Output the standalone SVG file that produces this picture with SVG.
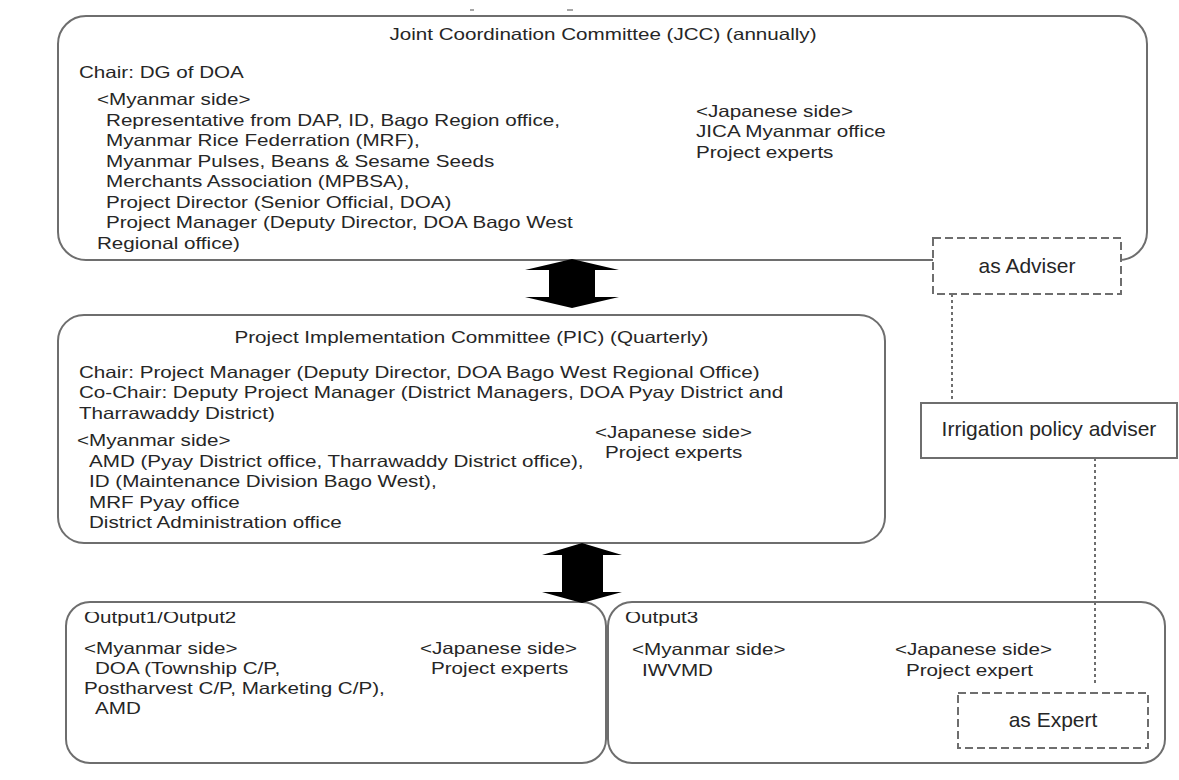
<svg xmlns="http://www.w3.org/2000/svg" width="1179" height="780" viewBox="0 0 1179 780">
<style>
  text { font-family: "Liberation Sans", Arial, sans-serif; font-size: 16.5px; fill: #262626; }
  .box { fill: #fff; stroke: #6e6e6e; stroke-width: 2; }
  .dbox { fill: #fff; stroke: #6e6e6e; stroke-width: 2; stroke-dasharray: 8 4; }
  .dot { fill: none; stroke: #6e6e6e; stroke-width: 2; stroke-dasharray: 3 3; }
  .arrow { fill: #000; }
  .mid { text-anchor: middle; }
  .lbl { font-size: 21px; }
</style>
<defs>
  <clipPath id="clipOut">
    <rect x="0" y="612" width="2000" height="168"/>
  </clipPath>
</defs>
<rect width="1179" height="780" fill="#fff"/>
<g id="marks">
  <line x1="470" y1="10" x2="474" y2="10" stroke="#888" stroke-width="1.5"/>
  <line x1="567" y1="10" x2="573" y2="10" stroke="#888" stroke-width="1.5"/>
</g>
<g id="jcc">
  <rect class="box" x="58" y="16" width="1089" height="244" rx="28" ry="28"/>
  <g transform="scale(1.25,1)">
    <text class="mid" x="482.4" y="40">Joint Coordination Committee (JCC) (annually)</text>
    <text x="63.2" y="78">Chair: DG of DOA</text>
    <text x="77.6" y="105">&lt;Myanmar side&gt;<tspan x="84.8" dy="21">Representative from DAP, ID, Bago Region office,</tspan><tspan x="84.8" dy="20.5">Myanmar Rice Federration (MRF),</tspan><tspan x="84.8" dy="20.5">Myanmar Pulses, Beans &amp; Sesame Seeds</tspan><tspan x="84.8" dy="20.5">Merchants Association (MPBSA),</tspan><tspan x="84.8" dy="20.5">Project Director (Senior Official, DOA)</tspan><tspan x="84.8" dy="20.5">Project Manager (Deputy Director, DOA Bago West</tspan><tspan x="77.6" dy="20.5">Regional office)</tspan></text>
    <text x="556.8" y="117">&lt;Japanese side&gt;<tspan x="556.8" dy="20.5">JICA Myanmar office</tspan><tspan x="556.8" dy="20.5">Project experts</tspan></text>
  </g>
</g>
<g id="adviser">
  <rect class="dbox" x="933" y="238" width="188" height="56"/>
  <text class="mid lbl" x="1027" y="273">as Adviser</text>
</g>
<g id="pic">
  <rect class="box" x="58" y="315" width="827" height="228" rx="26" ry="26"/>
  <g transform="scale(1.25,1)">
    <text class="mid" x="377.2" y="343">Project Implementation Committee (PIC) (Quarterly)</text>
    <text x="63.2" y="378">Chair: Project Manager (Deputy Director, DOA Bago West Regional Office)<tspan x="63.2" dy="20.5">Co-Chair: Deputy Project Manager (District Managers, DOA Pyay District and</tspan><tspan x="63.2" dy="20.5">Tharrawaddy District)</tspan></text>
    <text x="61.6" y="446">&lt;Myanmar side&gt;<tspan x="71.2" dy="21">AMD (Pyay District office, Tharrawaddy District office),</tspan><tspan x="71.2" dy="20.5">ID (Maintenance Division Bago West),</tspan><tspan x="71.2" dy="20.5">MRF Pyay office</tspan><tspan x="71.2" dy="20.5">District Administration office</tspan></text>
    <text x="476" y="438">&lt;Japanese side&gt;<tspan x="484" dy="20">Project experts</tspan></text>
  </g>
</g>
<g id="irrigation">
  <rect class="box" x="921" y="403" width="256" height="55"/>
  <text class="mid lbl" x="1049" y="436">Irrigation policy adviser</text>
</g>
<g id="output12">
  <rect class="box" x="66" y="602" width="540" height="161" rx="24" ry="24"/>
  <g transform="scale(1.25,1)">
    <text x="67.2" y="623" clip-path="url(#clipOut)">Output1/Output2</text>
    <text x="67.2" y="654">&lt;Myanmar side&gt;<tspan x="76" dy="20">DOA (Township C/P,</tspan><tspan x="67.2" dy="20">Postharvest C/P, Marketing C/P),</tspan><tspan x="76" dy="20">AMD</tspan></text>
    <text x="336" y="654">&lt;Japanese side&gt;<tspan x="344.8" dy="20">Project experts</tspan></text>
  </g>
</g>
<g id="output3">
  <rect class="box" x="608" y="602" width="557" height="161" rx="24" ry="24"/>
  <g transform="scale(1.25,1)">
    <text x="500" y="623" clip-path="url(#clipOut)">Output3</text>
    <text x="505.6" y="655">&lt;Myanmar side&gt;<tspan x="513.6" dy="21">IWVMD</tspan></text>
    <text x="716" y="655">&lt;Japanese side&gt;<tspan x="724.8" dy="21">Project expert</tspan></text>
  </g>
</g>
<g id="connectors">
  <polygon class="arrow" points="572,259 525,270 549,270 549,297 525,297 572,308 619,297 595,297 595,270 619,270"/>
  <polygon class="arrow" points="582,543 542,555 562,555 562,592 542,592 582,603 622,592 603,592 603,555 622,555"/>
  <line class="dot" x1="952" y1="294" x2="952" y2="403"/>
  <line class="dot" x1="1095" y1="458" x2="1095" y2="684"/>
</g>
<g id="expert">
  <rect class="dbox" x="958" y="693" width="190" height="55"/>
  <text class="mid lbl" x="1053" y="727">as Expert</text>
</g>
</svg>
